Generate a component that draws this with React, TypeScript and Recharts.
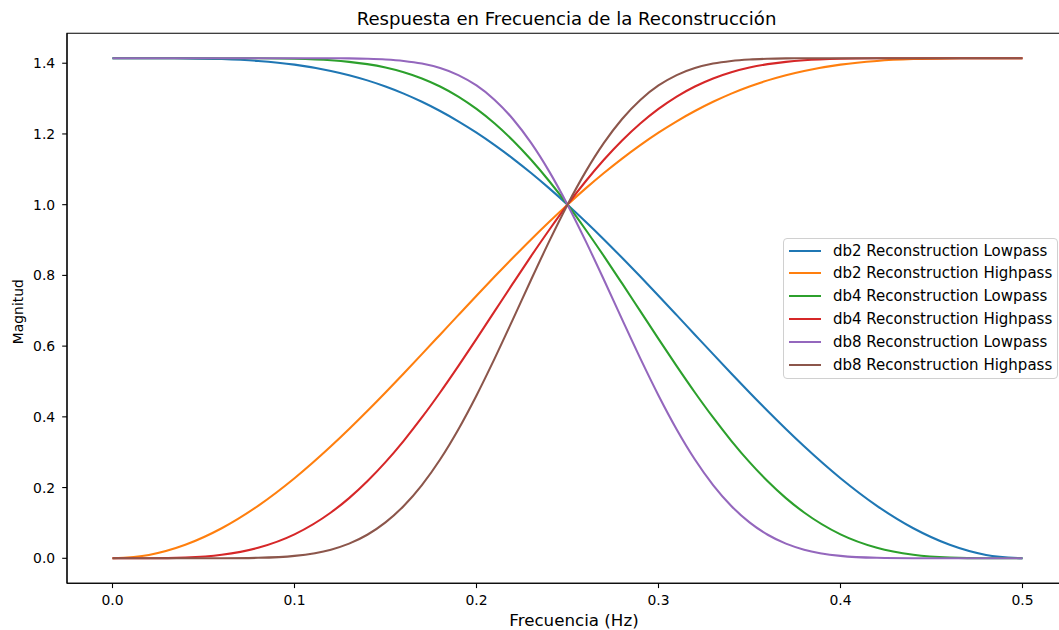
import React from "react";
import { LineChart, Line, XAxis, YAxis, ReferenceArea } from "recharts";

// Frequency grid (Hz), denser through the transition band
const freq = [
  0, 0.02, 0.04, 0.06, 0.08, 0.1, 0.12, 0.13, 0.14, 0.15, 0.16, 0.17, 0.18, 0.19, 0.2, 0.21, 0.22, 0.23, 0.24,
  0.25,
  0.26, 0.27, 0.28, 0.29, 0.3, 0.31, 0.32, 0.33, 0.34, 0.35, 0.36, 0.37, 0.38, 0.4, 0.42, 0.44, 0.46, 0.48, 0.5,
];

// Magnitude of each reconstruction filter
const db2Low = [
  1.4142, 1.4142, 1.4137, 1.4117, 1.4064, 1.396, 1.3783, 1.3662, 1.3515, 1.3342, 1.3141, 1.291, 1.2649, 1.2358,
  1.2037, 1.1685, 1.1304, 1.0895, 1.046,
  1.0,
  0.9518, 0.9017, 0.8498, 0.7967, 0.7425, 0.6876, 0.6324, 0.5773, 0.5227, 0.4689, 0.4164, 0.3655, 0.3166, 0.2263,
  0.1483, 0.085, 0.0383, 0.0096, 0,
];
const db2High = [
  0, 0.0096, 0.0383, 0.085, 0.1483, 0.2263, 0.3166, 0.3655, 0.4164, 0.4689, 0.5227, 0.5773, 0.6324, 0.6876,
  0.7425, 0.7967, 0.8498, 0.9017, 0.9518,
  1.0,
  1.046, 1.0895, 1.1304, 1.1685, 1.2037, 1.2358, 1.2649, 1.291, 1.3141, 1.3342, 1.3515, 1.3662, 1.3783, 1.396,
  1.4064, 1.4117, 1.4137, 1.4142, 1.4142,
];
const db4Low = [
  1.4142, 1.4142, 1.4142, 1.4142, 1.4139, 1.4126, 1.4083, 1.4039, 1.3974, 1.3878, 1.3746, 1.357, 1.3342, 1.3057,
  1.2708, 1.2295, 1.1815, 1.1269, 1.0662,
  1.0,
  0.9291, 0.8545, 0.7773, 0.6989, 0.6205, 0.5434, 0.4689, 0.3982, 0.3323, 0.2719, 0.2178, 0.1702, 0.1295, 0.0677,
  0.0297, 0.0099, 0.002, 0.0001, 0,
];
const db4High = [
  0, 0.0001, 0.002, 0.0099, 0.0297, 0.0677, 0.1295, 0.1702, 0.2178, 0.2719, 0.3323, 0.3982, 0.4689, 0.5434,
  0.6205, 0.6989, 0.7773, 0.8545, 0.9291,
  1.0,
  1.0662, 1.1269, 1.1815, 1.2295, 1.2708, 1.3057, 1.3342, 1.357, 1.3746, 1.3878, 1.3974, 1.4039, 1.4083, 1.4126,
  1.4139, 1.4142, 1.4142, 1.4142, 1.4142,
];
const db8Low = [
  1.4142, 1.4142, 1.4142, 1.4142, 1.4142, 1.4142, 1.414, 1.4136, 1.4126, 1.4106, 1.4065, 1.399, 1.3863, 1.3665,
  1.3371, 1.2963, 1.2424, 1.1746, 1.0934,
  1.0,
  0.8969, 0.7876, 0.6757, 0.5654, 0.4606, 0.3645, 0.2795, 0.2072, 0.148, 0.1015, 0.0666, 0.0415, 0.0245, 0.0069,
  0.0014, 0.0002, 0, 0, 0,
];
const db8High = [
  0, 0, 0, 0.0002, 0.0014, 0.0069, 0.0245, 0.0415, 0.0666, 0.1015, 0.148, 0.2072, 0.2795, 0.3645,
  0.4606, 0.5654, 0.6757, 0.7876, 0.8969,
  1.0,
  1.0934, 1.1746, 1.2424, 1.2963, 1.3371, 1.3665, 1.3863, 1.399, 1.4065, 1.4106, 1.4126, 1.4136, 1.414, 1.4142,
  1.4142, 1.4142, 1.4142, 1.4142, 1.4142,
];

const xTicks = [0, 0.1, 0.2, 0.3, 0.4, 0.5];
const yTicks = [0, 0.2, 0.4, 0.6, 0.8, 1.0, 1.2, 1.4];

const series = [
  { key: "db2Low", name: "db2 Reconstruction Lowpass", color: "#1f77b4", values: db2Low },
  { key: "db2High", name: "db2 Reconstruction Highpass", color: "#ff7f0e", values: db2High },
  { key: "db4Low", name: "db4 Reconstruction Lowpass", color: "#2ca02c", values: db4Low },
  { key: "db4High", name: "db4 Reconstruction Highpass", color: "#d62728", values: db4High },
  { key: "db8Low", name: "db8 Reconstruction Lowpass", color: "#9467bd", values: db8Low },
  { key: "db8High", name: "db8 Reconstruction Highpass", color: "#8c564b", values: db8High },
];

const data = freq.map((f, i) => {
  const row: Record<string, number> = { f };
  series.forEach((s) => {
    row[s.key] = s.values[i];
  });
  return row;
});

const FONT = "'DejaVu Sans', sans-serif";
const X_MIN = -0.025;
const X_MAX = 0.525;
const Y_MIN = -0.0707;
const Y_MAX = 1.4849;

function LegendBox() {
  return (
    <div
      style={{
        position: "absolute",
        left: 783,
        top: 238,
        width: 275,
        height: 141,
        border: "1px solid #d0d0d0",
        borderRadius: 4,
        background: "rgba(255,255,255,0.8)",
        fontFamily: FONT,
        fontSize: 15,
        color: "#000",
        boxSizing: "border-box",
      }}
    >
      {series.map((s, i) => (
        <div
          key={s.key}
          style={{
            position: "absolute",
            left: 0,
            top: Math.round(1.5 + i * 22.8),
            height: 20,
            display: "flex",
            alignItems: "center",
            whiteSpace: "nowrap",
          }}
        >
          <div style={{ marginLeft: 5, width: 32, height: 2, background: s.color }} />
          <span style={{ marginLeft: 12 }}>{s.name}</span>
        </div>
      ))}
    </div>
  );
}

export default function App() {
  return (
    <div
      style={{
        position: "fixed",
        left: 0,
        top: 0,
        width: 1059,
        height: 630,
        overflow: "hidden",
        background: "#fff",
      }}
    >
      <LineChart
        width={1080}
        height={630}
        data={data}
        margin={{ top: 33.2, right: 12, bottom: 0, left: 0 }}
        style={{ position: "absolute", left: 0, top: 0 }}
      >
        <XAxis
          dataKey="f"
          type="number"
          domain={[X_MIN, X_MAX]}
          ticks={xTicks}
          allowDataOverflow
          height={46.7}
          tickFormatter={(v: number) => v.toFixed(1)}
          tick={{ fontFamily: FONT, fontSize: 13.9, fill: "#000" }}
          tickSize={4.8}
          tickMargin={7.4}
          axisLine={{ stroke: "#000", strokeWidth: 1.1 }}
          tickLine={{ stroke: "#000", strokeWidth: 1.1 }}
        />
        <YAxis
          type="number"
          domain={[Y_MIN, Y_MAX]}
          ticks={yTicks}
          allowDataOverflow
          width={67}
          tickFormatter={(v: number) => v.toFixed(1)}
          tick={{ fontFamily: FONT, fontSize: 13.9, fill: "#000" }}
          tickSize={4.8}
          tickMargin={7}
          axisLine={{ stroke: "#000", strokeWidth: 1.1 }}
          tickLine={{ stroke: "#000", strokeWidth: 1.1 }}
        />
        <ReferenceArea
          x1={X_MIN}
          x2={X_MAX}
          y1={Y_MIN}
          y2={Y_MAX}
          fill="none"
          fillOpacity={0}
          stroke="#000"
          strokeWidth={1.1}
          ifOverflow="visible"
        />
        {series.map((s) => (
          <Line
            key={s.key}
            dataKey={s.key}
            name={s.name}
            type="monotone"
            stroke={s.color}
            strokeWidth={2.08}
            dot={false}
            activeDot={false}
            isAnimationActive={false}
          />
        ))}
      </LineChart>
      <svg
        width={1059}
        height={630}
        style={{ position: "absolute", left: 0, top: 0, pointerEvents: "none" }}
      >
        <text x={566.5} y={25} textAnchor="middle" fontFamily={FONT} fontSize={18.1} fill="#000">
          Respuesta en Frecuencia de la Reconstrucción
        </text>
        <text x={574} y={625.5} textAnchor="middle" fontFamily={FONT} fontSize={16.7} fill="#000">
          Frecuencia (Hz)
        </text>
        <text
          x={18}
          y={311.7}
          transform="rotate(-90 18 311.7)"
          textAnchor="middle"
          dominantBaseline="central"
          fontFamily={FONT}
          fontSize={13.9}
          fill="#000"
        >
          Magnitud
        </text>
      </svg>
      <LegendBox />
    </div>
  );
}
